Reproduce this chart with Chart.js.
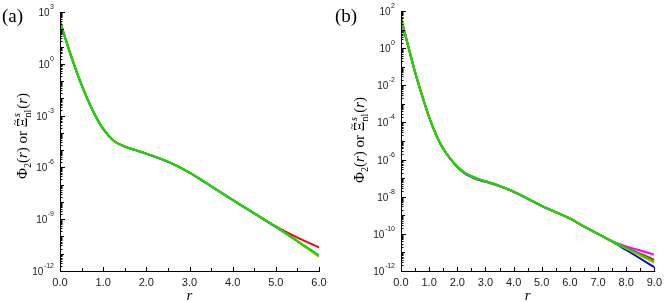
<!DOCTYPE html>
<html>
<head>
<meta charset="utf-8">
<script src="https://cdn.jsdelivr.net/npm/chart.js@4.4.1/dist/chart.umd.min.js"></script>
<style>
  html, body { margin: 0; padding: 0; background: #fff; }
  #wrap { position: relative; width: 667px; height: 302px; }
  #wrap canvas { position: absolute; top: 0; }
</style>
</head>
<body>
<div id="wrap">
  <canvas id="chartA" width="333" height="302" style="left:0"></canvas>
  <canvas id="chartB" width="334" height="302" style="left:333px"></canvas>
</div>
<script>
// ---- data, panel (a) ----
const rA = [0, 0.25, 0.5, 0.75, 1.0, 1.25, 1.5, 1.75, 2.0, 2.25, 2.5, 2.75, 3.0, 3.25, 3.5, 3.75, 4.0, 4.5, 5.0, 5.5, 6.0];
const phiA_red    = [2.9e2, 3.2e0, 6.0e-2, 2.2e-3, 1.7e-4, 3.4e-5, 1.65e-5, 1.0e-5, 6.3e-6, 3.8e-6, 2.14e-6, 1.1e-6, 5.0e-7, 2.1e-7, 8.3e-8, 3.3e-8, 1.32e-8, 2.2e-9, 3.8e-10, 8.5e-11, 2.35e-11];
const phiA_blue   = [2.75e2, 3.2e0, 6.0e-2, 2.2e-3, 1.7e-4, 3.4e-5, 1.6e-5, 1.0e-5, 6.2e-6, 3.7e-6, 2.1e-6, 1.08e-6, 4.9e-7, 2.05e-7, 8.1e-8, 3.2e-8, 1.3e-8, 2.15e-9, 3.6e-10, 5.3e-11, 7.8e-12];
const phiA_orange = [2.75e2, 3.2e0, 6.0e-2, 2.2e-3, 1.7e-4, 3.4e-5, 1.6e-5, 1.0e-5, 6.3e-6, 3.8e-6, 2.14e-6, 1.1e-6, 5.0e-7, 2.1e-7, 8.3e-8, 3.3e-8, 1.32e-8, 2.2e-9, 3.7e-10, 5.2e-11, 6.6e-12];
const phiA_green  = [2.75e2, 3.2e0, 6.0e-2, 2.2e-3, 1.7e-4, 3.4e-5, 1.6e-5, 1.0e-5, 6.3e-6, 3.8e-6, 2.14e-6, 1.1e-6, 5.0e-7, 2.1e-7, 8.3e-8, 3.3e-8, 1.32e-8, 2.2e-9, 3.7e-10, 5.4e-11, 7.6e-12];

// ---- data, panel (b) ----
const rB = [0, 0.25, 0.5, 0.75, 1.0, 1.25, 1.5, 1.75, 2.0, 2.25, 2.5, 2.75, 3.0, 3.5, 4.0, 4.5, 5.0, 5.5, 6.0, 6.5, 7.0, 7.5, 8.0, 8.5, 9.0];
const phiB_magenta = [3.7e1, 1.4e0, 5.0e-2, 2.8e-3, 1.9e-4, 2.1e-5, 3.8e-6, 1.12e-6, 4.2e-7, 2.0e-7, 1.26e-7, 8.9e-8, 6.8e-8, 3.8e-8, 1.9e-8, 7.9e-9, 3.2e-9, 1.48e-9, 6.8e-10, 2.5e-10, 1.0e-10, 4.1e-11, 2.1e-11, 1.26e-11, 7.6e-12];
const phiB_red     = [4.5e1, 1.4e0, 5.0e-2, 2.8e-3, 1.9e-4, 2.1e-5, 3.8e-6, 1.12e-6, 4.2e-7, 2.0e-7, 1.26e-7, 8.9e-8, 6.8e-8, 3.8e-8, 1.9e-8, 7.9e-9, 3.2e-9, 1.48e-9, 6.8e-10, 2.5e-10, 1.0e-10, 4.0e-11, 1.8e-11, 8.5e-12, 4.0e-12];
const phiB_blue    = [3.7e1, 1.4e0, 5.0e-2, 2.8e-3, 1.9e-4, 2.1e-5, 3.8e-6, 1.1e-6, 4.0e-7, 1.85e-7, 1.15e-7, 8.1e-8, 6.3e-8, 3.6e-8, 1.85e-8, 7.8e-9, 3.15e-9, 1.46e-9, 6.7e-10, 2.45e-10, 9.8e-11, 3.8e-11, 1.35e-11, 4.7e-12, 1.6e-12];
const phiB_orange  = [3.7e1, 1.4e0, 5.0e-2, 2.8e-3, 1.9e-4, 2.1e-5, 3.8e-6, 1.12e-6, 4.2e-7, 2.0e-7, 1.26e-7, 8.9e-8, 6.8e-8, 3.8e-8, 1.9e-8, 7.9e-9, 3.2e-9, 1.48e-9, 6.8e-10, 2.5e-10, 1.0e-10, 3.9e-11, 1.6e-11, 6.8e-12, 2.75e-12];
const phiB_green   = [3.7e1, 1.4e0, 5.0e-2, 2.8e-3, 1.9e-4, 2.1e-5, 3.8e-6, 1.12e-6, 4.2e-7, 2.0e-7, 1.26e-7, 8.9e-8, 6.8e-8, 3.8e-8, 1.9e-8, 7.9e-9, 3.2e-9, 1.48e-9, 6.8e-10, 2.5e-10, 1.0e-10, 4.0e-11, 1.7e-11, 7.6e-12, 3.3e-12];

// ---- tick settings ----
const xTicksA = { min: 0, max: 6, step: 0.5 };
const xTicksB = { min: 0, max: 9, step: 0.5 };
const yDecadesA = { min: -12, max: 3, labelEvery: 3 };
const yDecadesB = { min: -12, max: 2, labelEvery: 2 };

const SANS = '"Liberation Sans", Arial, sans-serif';
const SERIF = '"Liberation Serif", "Times New Roman", serif';

function pairs(xs, ys) {
  return xs.map((x, i) => ({ x: x, y: ys[i] }));
}

function line(label, color, xs, ys) {
  return {
    label: label,
    data: pairs(xs, ys),
    borderColor: color,
    backgroundColor: color,
    borderWidth: 2,
    pointRadius: 0,
    cubicInterpolationMode: 'monotone',
    fill: false
  };
}

// log ticks: every decade plus 2..9 minors
function logTicks(dec) {
  const out = [];
  for (let k = dec.min; k <= dec.max; k++) {
    out.push({ value: Math.pow(10, k), exp: k, major: true });
    if (k < dec.max) {
      for (let m = 2; m <= 9; m++) out.push({ value: m * Math.pow(10, k), exp: k, major: false });
    }
  }
  return out;
}

// draws text pieces one after another along the baseline
function richWidth(ctx, parts) {
  let w = 0;
  parts.forEach(p => {
    ctx.font = p.font;
    if (p.stack) {
      w += Math.max(ctx.measureText(p.sup).width, ctx.measureText(p.sub).width) + 1;
    } else {
      w += ctx.measureText(p.t).width;
    }
  });
  return w;
}

function drawRich(ctx, parts, x0, y0) {
  let x = x0;
  parts.forEach(p => {
    ctx.font = p.font;
    if (p.stack) {
      ctx.font = p.supFont;
      ctx.fillText(p.sup, x + 0.5, y0 - 7);
      ctx.font = p.font;
      ctx.fillText(p.sub, x, y0 + 4);
      x += Math.max(ctx.measureText(p.sup).width, ctx.measureText(p.sub).width) + 1;
      return;
    }
    ctx.fillText(p.t, x, y0 + (p.dy || 0));
    if (p.tilde) {
      const w = ctx.measureText(p.t).width;
      ctx.save();
      ctx.font = '11px ' + SERIF;
      ctx.textAlign = 'center';
      ctx.fillText('~', x + w / 2, y0 - 9);
      ctx.restore();
    }
    x += ctx.measureText(p.t).width;
  });
}

const yTitleParts = [
  { t: 'Φ', font: '15px ' + SERIF },
  { t: '2', font: '10px ' + SERIF, dy: 4 },
  { t: '(', font: '15px ' + SERIF },
  { t: 'r', font: 'italic 15px ' + SERIF },
  { t: ')', font: '15px ' + SERIF },
  { t: ' or ', font: '15px ' + SERIF },
  { t: 'Ξ', font: '15px ' + SERIF, tilde: true },
  { stack: true, sup: 's', sub: 'nl', font: '10px ' + SERIF, supFont: 'italic 10px ' + SERIF },
  { t: '(', font: '15px ' + SERIF },
  { t: 'r', font: 'italic 15px ' + SERIF },
  { t: ')', font: '15px ' + SERIF }
];

const axisDecor = {
  id: 'axisDecor',
  afterDraw(chart, args, opts) {
    const ctx = chart.ctx;
    const xs = chart.scales.x, ys = chart.scales.y;
    const a = chart.chartArea;
    ctx.save();
    ctx.strokeStyle = '#000';
    ctx.fillStyle = '#000';
    ctx.lineWidth = 1;

    // axis lines (left and bottom)
    ctx.beginPath();
    ctx.moveTo(Math.round(a.left) + 0.5, a.top);
    ctx.lineTo(Math.round(a.left) + 0.5, Math.round(a.bottom) + 0.5);
    ctx.lineTo(a.right + 1, Math.round(a.bottom) + 0.5);
    ctx.stroke();

    // x ticks, pointing in
    xs.ticks.forEach(t => {
      const px = Math.round(xs.getPixelForValue(t.value)) + 0.5;
      const len = Number.isInteger(Math.round(t.value * 1000) / 1000) ? 4 : 3;
      ctx.beginPath();
      ctx.moveTo(px, Math.round(a.bottom));
      ctx.lineTo(px, Math.round(a.bottom) - len);
      ctx.stroke();
    });

    // y ticks, pointing in, and 10^n labels
    ys.ticks.forEach(t => {
      const py = Math.round(ys.getPixelForValue(t.value)) + 0.5;
      const labeled = t.major && ((t.exp % opts.labelEvery) === 0);
      const len = labeled ? 5 : (t.major ? 4 : 2.5);
      ctx.beginPath();
      ctx.moveTo(Math.round(a.left), py);
      ctx.lineTo(Math.round(a.left) + len, py);
      ctx.stroke();
      if (labeled) {
        const exp = String(t.exp);
        ctx.fillStyle = '#222';
        ctx.textBaseline = 'middle';
        ctx.textAlign = 'right';
        ctx.font = '7px ' + SANS;
        const ew = ctx.measureText(exp).width;
        const right = a.left - 6;
        ctx.fillText(exp, right, py - 5);
        ctx.font = '10px ' + SANS;
        ctx.fillText('10', right - ew - 0.5, py + 0.5);
      }
    });

    // x title
    ctx.fillStyle = '#000';
    ctx.textAlign = 'center';
    ctx.textBaseline = 'alphabetic';
    ctx.font = 'italic 15px ' + SERIF;
    ctx.fillText('r', (a.left + a.right) / 2, 300);

    // y title, rotated
    ctx.save();
    ctx.translate(opts.titleX, opts.titleY);
    ctx.rotate(-Math.PI / 2);
    ctx.textAlign = 'left';
    const w = richWidth(ctx, yTitleParts);
    drawRich(ctx, yTitleParts, -w / 2, 5);
    ctx.restore();

    // panel label
    ctx.textAlign = 'left';
    ctx.font = '19px ' + SERIF;
    ctx.fillText(opts.panel, opts.panelX, 22);
    ctx.restore();
  }
};

function makeChart(id, datasets, xt, yd, yWidth, pad, decor) {
  return new Chart(document.getElementById(id), {
    type: 'line',
    data: { datasets: datasets },
    options: {
      responsive: false,
      animation: false,
      devicePixelRatio: 1,
      layout: { padding: pad },
      plugins: {
        legend: { display: false },
        tooltip: { enabled: false },
        axisDecor: decor
      },
      scales: {
        x: {
          type: 'linear',
          min: xt.min,
          max: xt.max,
          grid: { display: false, drawTicks: false },
          border: { display: false },
          ticks: {
            stepSize: xt.step,
            padding: 5,
            color: '#222',
            font: { family: SANS, size: 11 },
            maxRotation: 0,
            autoSkip: false,
            callback: v => (Math.abs(v - Math.round(v)) < 1e-9 ? v.toFixed(1) : '')
          },
          afterFit: s => { s.height = 31; }
        },
        y: {
          type: 'logarithmic',
          min: Math.pow(10, yd.min),
          max: Math.pow(10, yd.max),
          grid: { display: false, drawTicks: false },
          border: { display: false },
          ticks: { display: false },
          afterBuildTicks: s => { s.ticks = logTicks(yd); },
          afterFit: s => { s.width = yWidth; }
        }
      }
    },
    plugins: [axisDecor]
  });
}

makeChart('chartA', [
  line('green', '#00e400', rA, phiA_green),
  line('orange', '#ff9900', rA, phiA_orange),
  line('blue', '#0000ff', rA, phiA_blue),
  line('red', '#ff0000', rA, phiA_red)
], xTicksA, yDecadesA, 60, { left: 0, top: 12, right: 14, bottom: 0 },
  { labelEvery: yDecadesA.labelEvery, titleX: 22, titleY: 136, panel: '(a)', panelX: 2 });

makeChart('chartB', [
  line('green', '#00e400', rB, phiB_green),
  line('orange', '#ff9900', rB, phiB_orange),
  line('red', '#ff0000', rB, phiB_red),
  line('magenta', '#ff00ff', rB, phiB_magenta),
  line('blue', '#0000ff', rB, phiB_blue)
], xTicksB, yDecadesB, 68, { left: 0, top: 11, right: 8, bottom: 0 },
  { labelEvery: yDecadesB.labelEvery, titleX: 26, titleY: 140, panel: '(b)', panelX: 2 });
</script>
</body>
</html>
